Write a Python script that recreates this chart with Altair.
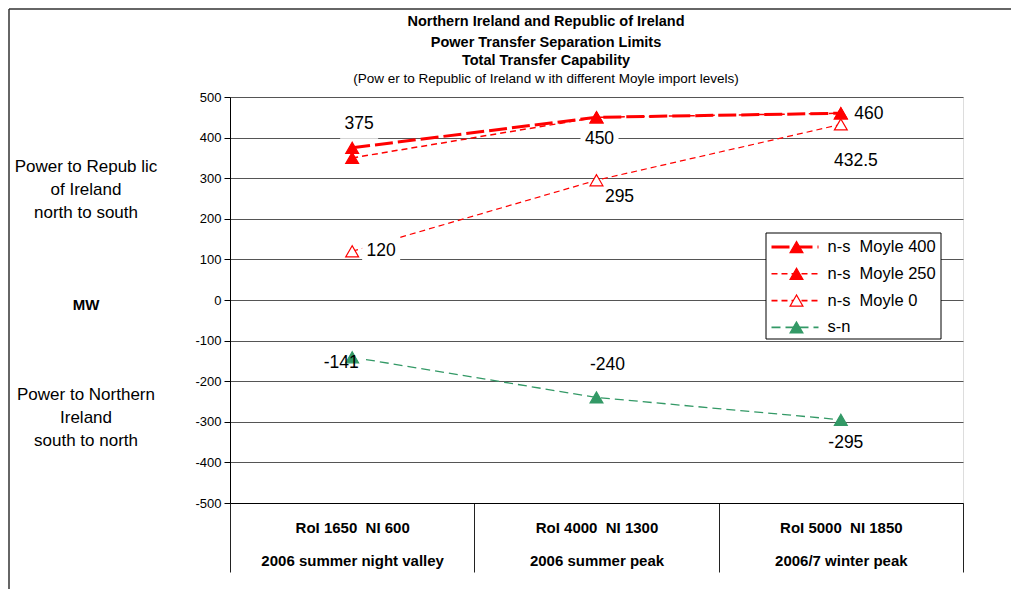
import altair as alt
import pandas as pd

# ---------------- data ----------------
cat_top = ["RoI 1650\u00a0\u00a0NI 600", "RoI 4000\u00a0\u00a0NI 1300", "RoI 5000\u00a0\u00a0NI 1850"]
cat_bottom = ["2006 summer night valley", "2006 summer peak", "2006/7 winter peak"]
series_names = ["n-s\u00a0\u00a0Moyle 400", "n-s\u00a0\u00a0Moyle 250", "n-s\u00a0\u00a0Moyle 0", "s-n"]
moyle_400 = [375, 450, 460]
moyle_250 = [350, 450, 460]
moyle_0 = [120, 295, 432.5]
south_north = [-141, -240, -295]
y_ticks = list(range(-500, 501, 100))

title_lines = ["Northern Ireland and Republic of Ireland",
               "Power Transfer Separation Limits",
               "Total Transfer Capability"]
subtitle = "(Pow er to Republic of Ireland w ith different Moyle import levels)"
note_top = "Power to Repub lic\nof Ireland\nnorth to south"
note_mid = "MW"
note_bottom = "Power to Northern\nIreland\nsouth to north"

# ---------------- layout / style ----------------
FONT = "Liberation Sans"
W, H = 733, 406
RED = "#FF0000"
GREEN = "#339966"

series_values = dict(zip(series_names, [moyle_400, moyle_250, moyle_0, south_north]))
styles = {
    series_names[0]: dict(color=RED, dash=[18, 5], width=3, fill=RED),
    series_names[1]: dict(color=RED, dash=[6, 4], width=1.5, fill=RED),
    series_names[2]: dict(color=RED, dash=[6, 4], width=1.2, fill="white"),
    series_names[3]: dict(color=GREEN, dash=[9, 5], width=1.3, fill=GREEN),
}
labelled = [series_names[0], series_names[2], series_names[3]]
label_dx = {series_names[0]: [7, 3, 28], series_names[2]: [29, 23, 15], series_names[3]: [-11, 11, 5]}
label_dy = {series_names[0]: [-24, 22, 1], series_names[2]: [0, 17, 37], series_names[3]: [6, -32, 23]}

xcats = [f"{a}|{b}" for a, b in zip(cat_top, cat_bottom)]

x_axis = alt.Axis(title=None, labelExpr="split(datum.label, '|')", labelFont=FONT,
                  labelFontSize=15, labelFontWeight="bold", labelLineHeight=33,
                  labelPadding=-52, tickSize=69, tickBand="extent", tickColor="#222",
                  domainColor="black", labelColor="black", labelAngle=0, grid=False,
                  labelLimit=300)
y_axis = alt.Axis(title=None, values=y_ticks, labelExpr="toString(datum.value)",
                  labelFont=FONT, labelFontSize=13,
                  labelColor="black", tickSize=6, tickColor="black", domainColor="black",
                  gridColor="#555", gridWidth=1, labelPadding=3)


def X():
    return alt.X("cat:N", sort=xcats,
                 scale=alt.Scale(type="band", paddingInner=0, paddingOuter=0), axis=x_axis)


def Y():
    return alt.Y("value:Q", scale=alt.Scale(domain=[-500, 500], nice=False, zero=False), axis=y_axis)


lines, boxes, points, texts = [], [], [], []
for name in series_names:
    st = styles[name]
    d = pd.DataFrame({"cat": xcats, "value": series_values[name]})
    lines.append(alt.Chart(d).mark_line(color=st["color"], strokeDash=st["dash"],
                                        strokeWidth=st["width"]).encode(x=X(), y=Y()))
    points.append(alt.Chart(d).mark_point(shape="triangle-up", size=165, filled=True,
                                          fill=st["fill"], stroke=st["color"],
                                          strokeWidth=1.2, opacity=1).encode(x=X(), y=Y()))

for name in labelled:
    vals = series_values[name]
    for i, v in enumerate(vals):
        txt = f"{v:g}"
        d = pd.DataFrame({"cat": [xcats[i]], "value": [v], "txt": [txt]})
        dx, dy = label_dx[name][i], label_dy[name][i]
        w, h = 10 * len(txt) + 8, 30
        path = f"M{dx - w / 2},{dy - h / 2}h{w}v{h}h{-w}Z"
        boxes.append(alt.Chart(d).mark_point(shape=path, size=4, filled=True, fill="white",
                                             strokeWidth=0, opacity=1).encode(x=X(), y=Y()))
        texts.append(alt.Chart(d).mark_text(font=FONT, fontSize=17.5, color="black", dx=dx, dy=dy,
                                            align="center", baseline="middle")
                     .encode(x=X(), y=Y(), text="txt:N"))

one = pd.DataFrame({"k": [0]})

# title lines
title_marks = []
for txt, yy, bold, fs in [(title_lines[0], -75, True, 14.5), (title_lines[1], -54, True, 14.5),
                          (title_lines[2], -36, True, 14.5), (subtitle, -18, False, 13.5)]:
    title_marks.append(alt.Chart(one).mark_text(text=txt, font=FONT, fontSize=fs,
                                                fontWeight="bold" if bold else "normal",
                                                color="black", align="center", baseline="middle")
                       .encode(x=alt.value(316), y=alt.value(yy)))

# side notes (y = first line)
notes = []
for txt, yy, bold, fs in [(note_top, 70, False, 17), (note_mid, 208, True, 15), (note_bottom, 298, False, 17)]:
    notes.append(alt.Chart(one).mark_text(text=txt, lineBreak="\n", lineHeight=23, font=FONT,
                                          fontSize=fs, fontWeight="bold" if bold else "normal",
                                          color="black", align="center", baseline="middle")
                 .encode(x=alt.value(-144), y=alt.value(yy)))

# legend (drawn box)
LX0, LX1, LY0, LY1 = 536, 711, 136, 242
legend = [alt.Chart(one).mark_rect(fill="white", stroke="black", strokeWidth=1)
          .encode(x=alt.value(LX0), x2=alt.value(LX1), y=alt.value(LY0), y2=alt.value(LY1))]
for i, name in enumerate(series_names):
    st = styles[name]
    yy = 150 + 26.8 * i
    legend.append(alt.Chart(one).mark_rule(color=st["color"], strokeDash=st["dash"],
                                           strokeWidth=max(st["width"], 1.6))
                  .encode(x=alt.value(541.5), x2=alt.value(588.5), y=alt.value(yy)))
    legend.append(alt.Chart(one).mark_point(shape="triangle-up", size=165, filled=True,
                                            fill=st["fill"], stroke=st["color"], strokeWidth=1.2,
                                            opacity=1)
                  .encode(x=alt.value(566.5), y=alt.value(yy)))
    legend.append(alt.Chart(pd.DataFrame({"t": [name]})).mark_text(font=FONT, fontSize=16.5,
                                                                    color="black", align="left",
                                                                    baseline="middle")
                  .encode(x=alt.value(597.5), y=alt.value(yy), text="t:N"))

# outer chart frame (left and top edges visible in the reference)
frame = [
    alt.Chart(one).mark_rule(color="#333", strokeWidth=1.5)
    .encode(x=alt.value(-221), y=alt.value(-88), y2=alt.value(H + 86)),
    alt.Chart(one).mark_rule(color="#333", strokeWidth=1.5)
    .encode(x=alt.value(-221), x2=alt.value(W + 48), y=alt.value(-88)),
]

chart = alt.layer(*lines, *boxes, *points, *texts, *title_marks, *notes, *legend, *frame).properties(
    width=W, height=H,
    autosize=alt.AutoSizeParams(type="none"),
    padding={"left": 222, "top": 89, "right": 48, "bottom": 86},
).configure_view(stroke="#999", strokeWidth=1).configure(background="white")

chart.save("out.html", embed_options={"renderer": "svg", "actions": False})
